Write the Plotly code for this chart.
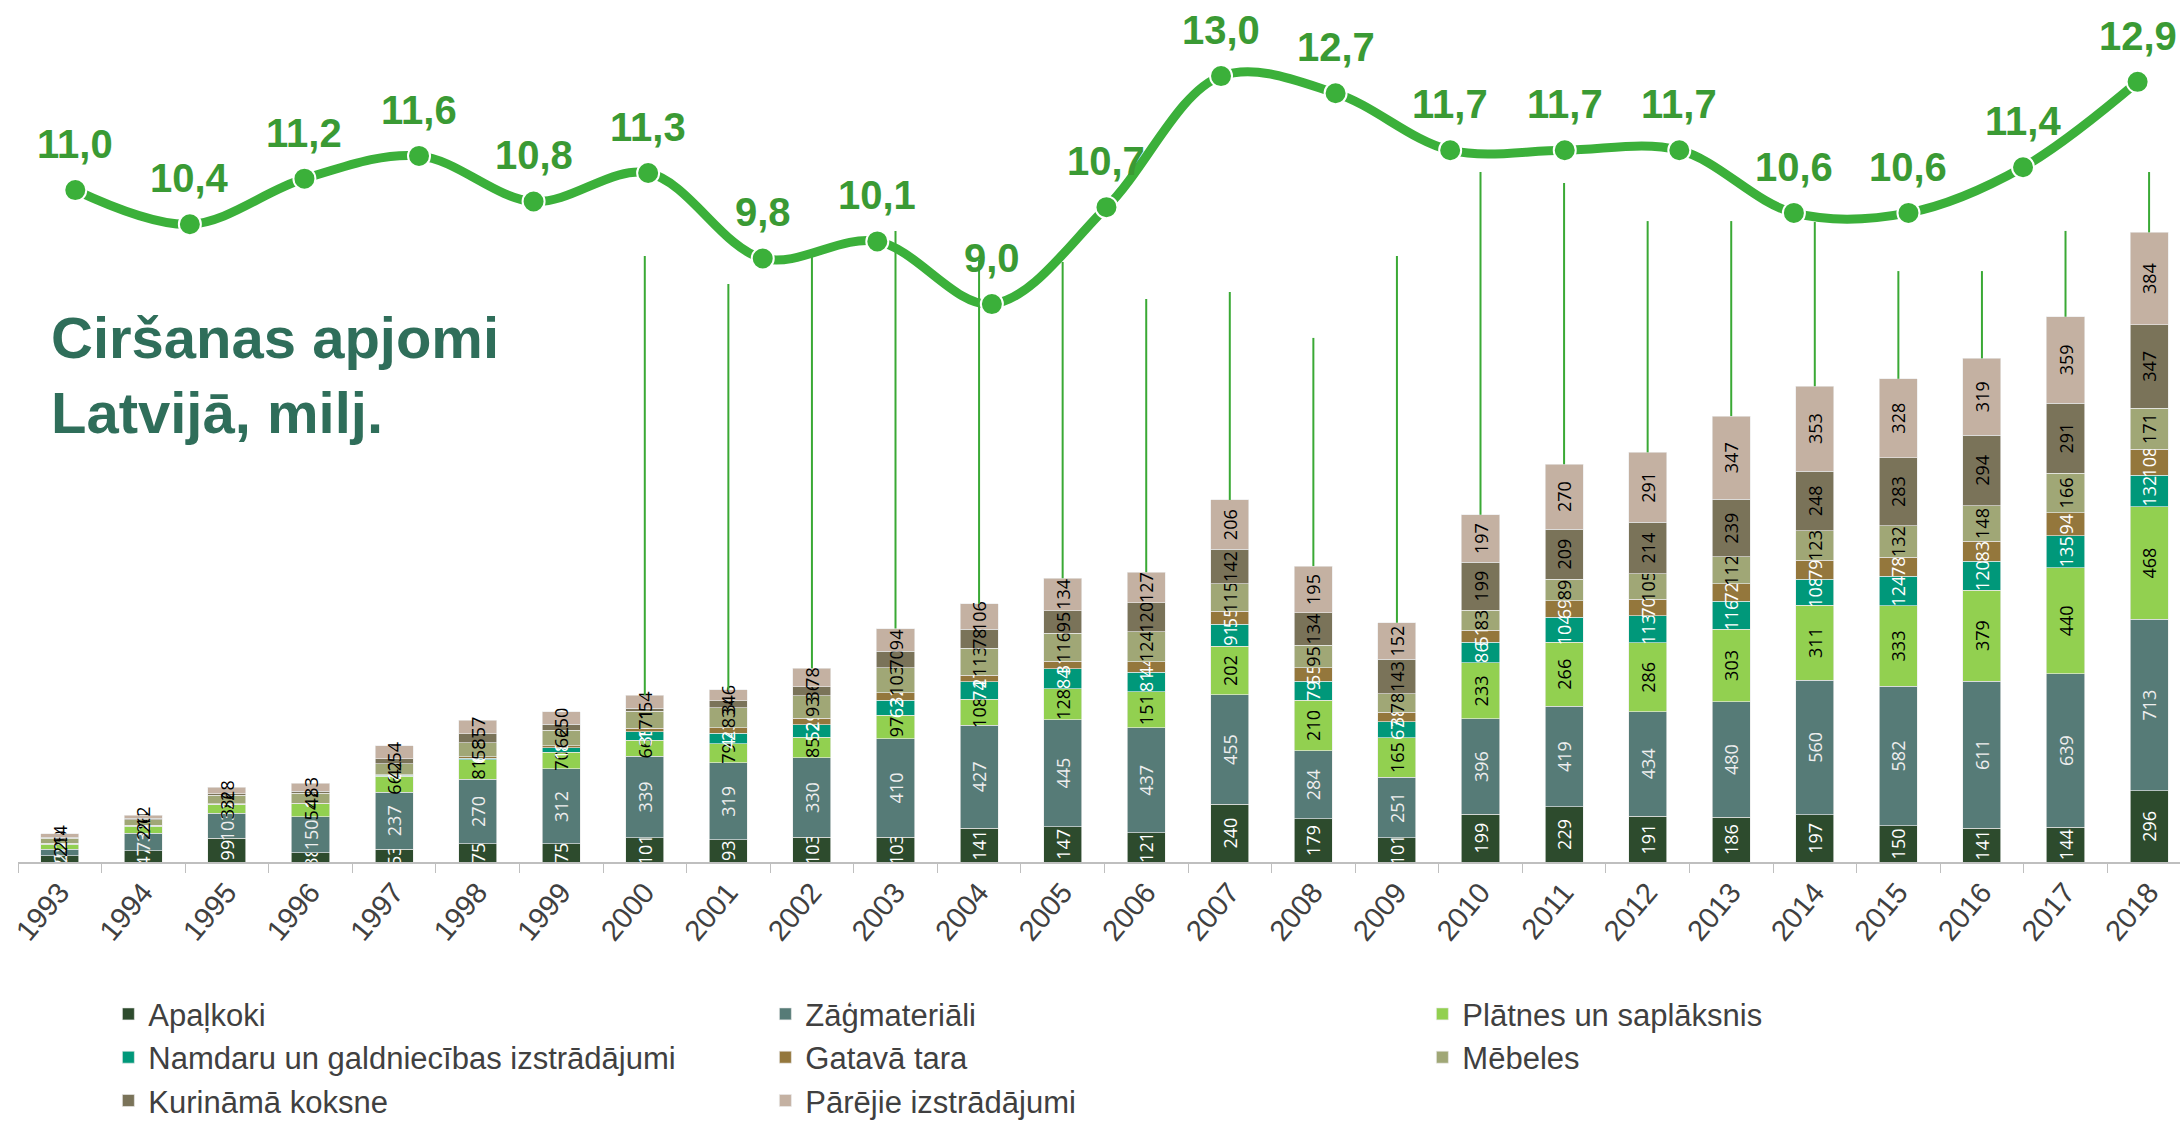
import plotly.graph_objects as go

# ---------------- data ----------------
years = [str(y) for y in range(1993, 2019)]
apalkoki = [25, 47, 99, 38, 53, 75, 75, 101, 93, 103, 103, 141, 147, 121, 240, 179, 101, 199, 229, 191, 186, 197, 150, 141, 144, 296]
zagmateriali = [28, 73, 103, 150, 237, 270, 312, 339, 319, 330, 410, 427, 445, 437, 455, 284, 251, 396, 419, 434, 480, 560, 582, 611, 639, 713]
platnes = [21, 28, 38, 54, 66, 81, 70, 66, 79, 85, 97, 108, 128, 151, 202, 210, 165, 233, 266, 286, 303, 311, 333, 379, 440, 468]
namdaru = [2, 2, 1, 1, 4, 6, 18, 35, 44, 52, 62, 74, 84, 81, 91, 79, 67, 86, 104, 113, 116, 108, 124, 120, 135, 132]
gatava_tara = [2, 2, 2, 1, 2, 6, 8, 16, 23, 29, 32, 27, 31, 44, 55, 55, 38, 51, 69, 70, 72, 79, 78, 83, 94, 108]
mebeles = [20, 24, 34, 42, 47, 58, 66, 71, 83, 93, 103, 113, 116, 124, 115, 95, 78, 83, 89, 105, 112, 123, 132, 148, 166, 171]
kurinama = [5, 6, 6, 8, 21, 37, 25, 12, 30, 36, 70, 78, 95, 120, 142, 134, 143, 199, 209, 214, 239, 248, 283, 294, 291, 347]
parejie = [14, 12, 28, 33, 54, 57, 50, 54, 46, 78, 94, 106, 134, 127, 206, 195, 152, 197, 270, 291, 347, 353, 328, 319, 359, 384]

line_years = [str(y) for y in range(2000, 2019)]
cirsana = [11.0, 10.4, 11.2, 11.6, 10.8, 11.3, 9.8, 10.1, 9.0, 10.7, 13.0, 12.7, 11.7, 11.7, 11.7, 10.6, 10.6, 11.4, 12.9]

leader_years = [str(y) for y in range(2000, 2019)]
leader_tops = [2521, 2404, 2550, 2625, 2504, 2496, 2342, 2371, 2180, 2521, 2870, 2824, 2666, 2666, 2662, 2458, 2458, 2625, 2870]

series_names = ["Apaļkoki", "Zāģmateriāli", "Plātnes un saplāksnis",
                "Namdaru un galdniecības izstrādājumi", "Gatavā tara", "Mēbeles",
                "Kurināmā koksne", "Pārējie izstrādājumi"]
series_vals = [apalkoki, zagmateriali, platnes, namdaru, gatava_tara, mebeles, kurinama, parejie]
series_colors = ["#2d4b2d", "#567b77", "#92d050", "#00987a", "#94773c", "#a0a776", "#7a7359", "#c4b1a2"]
label_colors = ["#ffffff", "#eeeeee", "#000000", "#ffffff", "#ffffff", "#000000", "#000000", "#000000"]

fig = go.Figure()

for name, vals, col, tcol in zip(series_names, series_vals, series_colors, label_colors):
    fig.add_trace(go.Bar(
        x=years, y=vals, name=name,
        marker=dict(color=col, line=dict(color="rgba(235,235,235,0.8)", width=0.8)),
        text=[str(v) for v in vals], textposition="inside", insidetextanchor="middle",
        textangle=-90, textfont=dict(family="Open Sans", size=18, color=tcol),
        hoverinfo="skip",
    ))

# leader lines from bar tops
totals = [sum(s[i] for s in series_vals) for i in range(len(years))]
lx, ly = [], []
for yr, top in zip(leader_years, leader_tops):
    idx = years.index(yr)
    lx += [yr, yr, None]
    ly += [totals[idx], top, None]
fig.add_trace(go.Scatter(x=lx, y=ly, mode="lines", line=dict(color="#3aa935", width=2),
                         showlegend=False, hoverinfo="skip"))

# harvest line
fig.add_trace(go.Scatter(
    x=line_years, y=cirsana, xaxis="x2", yaxis="y2", mode="lines+markers",
    line=dict(color="#3bb03a", width=9, shape="spline", smoothing=1.0),
    marker=dict(size=22, color="#3bb03a", line=dict(color="white", width=2)),
    showlegend=False, hoverinfo="skip"))

annotations = []
for i, v in enumerate(cirsana):
    annotations.append(dict(
        x=i, y=v, xref="x2", yref="y2", text="<b>" + f"{v:.1f}".replace(".", ",") + "</b>",
        showarrow=False, yshift=46, xanchor="center", yanchor="middle",
        font=dict(family="Liberation Sans", size=40, color="#3a9a34")))

annotations.append(dict(
    x=0.0143, y=0.5716, xref="paper", yref="paper", xanchor="left", yanchor="middle",
    align="left", showarrow=False,
    text="<b>Ciršanas apjomi<br>Latvijā, milj.</b>",
    font=dict(family="Liberation Sans", size=58, color="#2f6e5a")))

fig.update_layout(
    width=2180, height=1124,
    margin=dict(l=18, r=0, t=10, b=262, pad=0, autoexpand=False),
    paper_bgcolor="white", plot_bgcolor="white",
    barmode="stack", bargap=0.545,
    uniformtext=dict(minsize=18, mode="show"),
    showlegend=True,
    legend=dict(orientation="h", x=0.0418, xanchor="left", y=-0.147, yanchor="top",
                entrywidth=612, entrywidthmode="pixels", traceorder="normal",
                font=dict(family="Liberation Sans", size=31, color="#404040")),
    xaxis=dict(type="category", categoryorder="array", categoryarray=years,
               range=[-0.5, 25.37], tickson="boundaries", ticks="outside", ticklen=9,
               tickcolor="#bfbfbf", showline=True, linecolor="#bfbfbf", linewidth=1.5,
               tickangle=-50, tickfont=dict(family="Liberation Sans", size=29, color="#404040"),
               showgrid=False, zeroline=False, automargin=False),
    yaxis=dict(range=[0, 3544], visible=False, showgrid=False),
    xaxis2=dict(type="category", categoryorder="array", categoryarray=line_years,
                range=[-0.5, 18.37], overlaying="x", visible=False),
    yaxis2=dict(range=[-0.79, 14.16], overlaying="y", visible=False),
    annotations=annotations,
)

fig.write_html("out.html", config={"displayModeBar": False},
               post_script="document.body.style.margin='0';")
